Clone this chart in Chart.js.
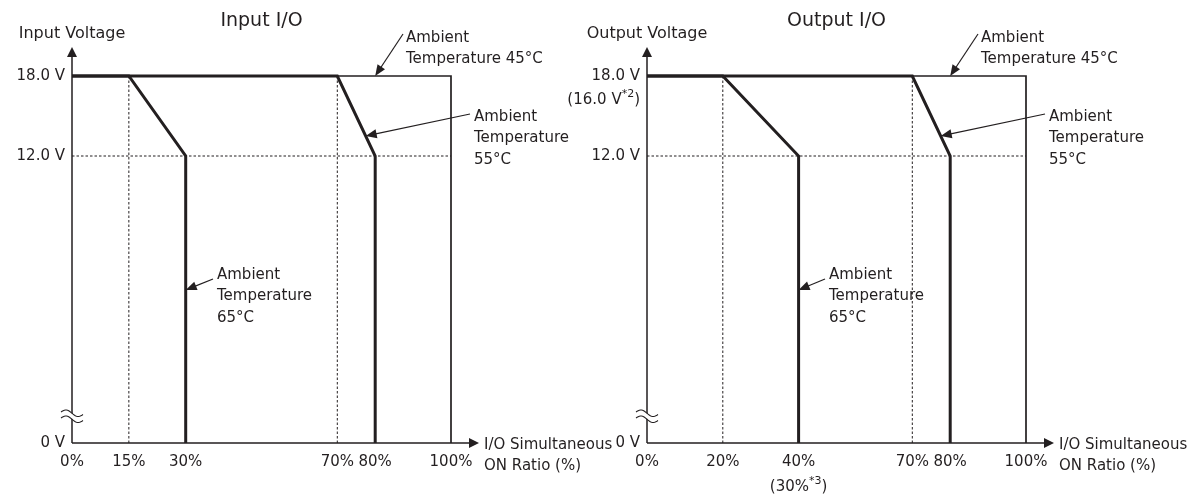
<!DOCTYPE html>
<html>
<head>
<meta charset="utf-8">
<script src="https://cdn.jsdelivr.net/npm/chart.js@4.4.1/dist/chart.umd.min.js"></script>
<style>
  html, body { margin: 0; padding: 0; background: #fff; }
  #wrap { position: relative; width: 1191px; height: 500px; overflow: hidden; background: #fff; }
  #inputChart { position: absolute; left: 0; top: 0; }
  #outputChart { position: absolute; left: 560px; top: 0; }
</style>
</head>
<body>
<div id="wrap">
  <canvas id="inputChart" width="620" height="500"></canvas>
  <canvas id="outputChart" width="631" height="500"></canvas>
</div>
<script>
// ---- data -------------------------------------------------------------
const voltageTicks  = [0, 12, 18];
const voltageLabels = ['0 V', '12.0 V', '18.0 V'];

// Input I/O derating (ON ratio % vs input voltage)
const inputRatioTicks = [0, 15, 30, 70, 80, 100];
const inputT45Ratio = [0, 100, 100];
const inputT45Volt  = [18, 18, 0];
const inputT55Ratio = [0, 70, 80, 80];
const inputT55Volt  = [18, 18, 12, 0];
const inputT65Ratio = [0, 15, 30, 30];
const inputT65Volt  = [18, 18, 12, 0];
const inputGuideRatios = [15, 70];

// Output I/O derating (ON ratio % vs output voltage)
const outputRatioTicks = [0, 20, 40, 70, 80, 100];
const outputT45Ratio = [0, 100, 100];
const outputT45Volt  = [18, 18, 0];
const outputT55Ratio = [0, 70, 80, 80];
const outputT55Volt  = [18, 18, 12, 0];
const outputT65Ratio = [0, 20, 40, 40];
const outputT65Volt  = [18, 18, 12, 0];
const outputGuideRatios = [20, 70];

const guideVolt = 12;
const maxVolt = 18;
const maxRatio = 100;

// ---- styling ----------------------------------------------------------
const INK = '#231f20';
const FONT = "'DejaVu Sans', 'Verdana', sans-serif";

// ---- voltage axis with a break between 0 V and 12 V -------------------
const VOLT_KNOTS = [0, 12, 18];
const FRACTION_KNOTS = [0, 0.782, 1];

function piecewise(v, xs, ys) {
  for (let i = 1; i < xs.length; i++) {
    if (v <= xs[i] || i === xs.length - 1) {
      const t = (v - xs[i - 1]) / (xs[i] - xs[i - 1]);
      return ys[i - 1] + t * (ys[i] - ys[i - 1]);
    }
  }
  return ys[0];
}

class BrokenVoltageScale extends Chart.LinearScale {
  getPixelForValue(value) {
    if (value === null || value === undefined || isNaN(value)) return NaN;
    return this.getPixelForDecimal(piecewise(value, VOLT_KNOTS, FRACTION_KNOTS));
  }
  getValueForPixel(pixel) {
    return piecewise(this.getDecimalForPixel(pixel), FRACTION_KNOTS, VOLT_KNOTS);
  }
}
BrokenVoltageScale.id = 'brokenVoltage';
BrokenVoltageScale.defaults = Chart.LinearScale.defaults;
Chart.register(BrokenVoltageScale);

// ---- helpers ----------------------------------------------------------
function series(xs, ys) { return xs.map((x, i) => ({ x: x, y: ys[i] })); }

function lineSet(points, width, dash) {
  return {
    data: points, borderColor: INK, borderWidth: width, borderDash: dash || [],
    pointRadius: 0, pointHoverRadius: 0, fill: false, tension: 0, clip: false,
    borderJoinStyle: 'miter', borderCapStyle: 'butt'
  };
}

function arrowHead(ctx, x, y, angle, len, half) {
  ctx.save();
  ctx.translate(x, y);
  ctx.rotate(angle);
  ctx.beginPath();
  ctx.moveTo(0, 0);
  ctx.lineTo(-len, -half);
  ctx.lineTo(-len, half);
  ctx.closePath();
  ctx.fill();
  ctx.restore();
}

function drawRich(ctx, parts, x, y, align, size) {
  const normal = size + 'px ' + FONT;
  const small = Math.round(size * 0.72) + 'px ' + FONT;
  let total = 0;
  parts.forEach(p => { ctx.font = p[1] ? small : normal; total += ctx.measureText(p[0]).width; });
  let cx = align === 'right' ? x - total : align === 'center' ? x - total / 2 : x;
  ctx.textAlign = 'left';
  parts.forEach(p => {
    ctx.font = p[1] ? small : normal;
    ctx.fillText(p[0], cx, p[1] ? y - 6 : y);
    cx += ctx.measureText(p[0]).width;
  });
}

const decorPlugin = {
  id: 'decor',
  beforeDatasetsDraw(chart, args, o) {
    const ctx = chart.ctx, xs = chart.scales.x, ys = chart.scales.y;
    const ox = xs.getPixelForValue(0), oy = ys.getPixelForValue(0);
    const xTip = xs.getPixelForValue(maxRatio) + 28;
    const yTip = ys.getPixelForValue(maxVolt) - 29;
    ctx.save();
    ctx.strokeStyle = INK; ctx.fillStyle = INK; ctx.lineWidth = 1.5;
    ctx.beginPath();
    ctx.moveTo(ox, oy); ctx.lineTo(xTip - 9, oy);
    ctx.moveTo(ox, oy); ctx.lineTo(ox, yTip + 9);
    ctx.stroke();
    arrowHead(ctx, xTip, oy, 0, 10, 5);
    arrowHead(ctx, ox, yTip, -Math.PI / 2, 10, 5);

    // axis break mark
    const by = oy - 28, w = 22, gap = 6, amp = 2.6;
    const wave = (yy, t) => yy - amp * Math.sin(2 * Math.PI * t) + 2.5 * t;
    ctx.beginPath();
    for (let i = 0; i <= 20; i++) { const t = i / 20; ctx[i ? 'lineTo' : 'moveTo'](ox - w / 2 + t * w, wave(by - gap / 2, t)); }
    for (let i = 20; i >= 0; i--) { const t = i / 20; ctx.lineTo(ox - w / 2 + t * w, wave(by + gap / 2, t)); }
    ctx.closePath();
    ctx.fillStyle = '#fff'; ctx.fill();
    ctx.lineWidth = 1.1; ctx.strokeStyle = INK;
    [by - gap / 2, by + gap / 2].forEach(yy => {
      ctx.beginPath();
      for (let i = 0; i <= 20; i++) { const t = i / 20; ctx[i ? 'lineTo' : 'moveTo'](ox - w / 2 + t * w, wave(yy, t)); }
      ctx.stroke();
    });
    ctx.restore();
  },
  afterDraw(chart, args, o) {
    const ctx = chart.ctx, xs = chart.scales.x, ys = chart.scales.y, ca = chart.chartArea;
    const ox = xs.getPixelForValue(0);
    const xTip = xs.getPixelForValue(maxRatio) + 28;
    ctx.save();
    ctx.fillStyle = INK; ctx.strokeStyle = INK; ctx.textBaseline = 'middle';

    ctx.font = '19px ' + FONT; ctx.textAlign = 'center';
    ctx.fillText(o.title, (ca.left + ca.right) / 2, 21);
    ctx.font = '16px ' + FONT;
    ctx.fillText(o.yTitle, ox, 34);
    ctx.font = '15px ' + FONT; ctx.textAlign = 'left';
    o.xTitle.forEach((s, i) => ctx.fillText(s, xTip + 5, 445 + i * 21));

    o.callouts.forEach(c => {
      ctx.font = '15px ' + FONT; ctx.textAlign = 'left';
      c.lines.forEach((s, i) => ctx.fillText(s, c.tx, c.ty + i * 21.5));
      const tx = xs.getPixelForValue(c.at[0]), ty = ys.getPixelForValue(c.at[1]);
      const ang = Math.atan2(ty - c.from[1], tx - c.from[0]);
      ctx.lineWidth = 1.2;
      ctx.beginPath();
      ctx.moveTo(c.from[0], c.from[1]);
      ctx.lineTo(tx - Math.cos(ang) * 9, ty - Math.sin(ang) * 9);
      ctx.stroke();
      arrowHead(ctx, tx, ty, ang, 11, 4.5);
    });

    (o.notes || []).forEach(n => {
      const x = n.ratio !== undefined ? xs.getPixelForValue(n.ratio) : ca.left - 7;
      drawRich(ctx, n.parts, x, n.y, n.align, 15);
    });
    ctx.restore();
  }
};

function makeChart(id, cfg) {
  const canvas = document.getElementById(id);
  const datasets = [
    lineSet(series(cfg.t65[0], cfg.t65[1]), 3),
    lineSet(series(cfg.t55[0], cfg.t55[1]), 3),
    lineSet(series(cfg.t45[0], cfg.t45[1]), 1.7),
    lineSet(series([0, maxRatio], [guideVolt, guideVolt]), 1, [2.5, 2]),
  ];
  cfg.guides.forEach(r => datasets.push(lineSet(series([r, r], [maxVolt, 0]), 1, [2.5, 2])));

  return new Chart(canvas, {
    type: 'line',
    data: { datasets: datasets },
    plugins: [decorPlugin],
    options: {
      responsive: false,
      animation: false,
      events: [],
      layout: { padding: { left: 0, right: canvas.width - cfg.plotRight, top: 76, bottom: 0 } },
      plugins: {
        legend: { display: false },
        tooltip: { enabled: false },
        decor: cfg.decor
      },
      scales: {
        x: {
          type: 'linear', min: 0, max: maxRatio,
          afterBuildTicks: s => { s.ticks = cfg.ratioTicks.map(v => ({ value: v })); },
          afterFit: s => { s.height = 57; },
          ticks: {
            callback: v => v + '%', color: INK, padding: 10,
            font: { family: FONT, size: 15 }, maxRotation: 0, autoSkip: false
          },
          grid: { display: false, drawTicks: false },
          border: { display: false }
        },
        y: {
          type: 'brokenVoltage', min: 0, max: maxVolt,
          afterBuildTicks: s => { s.ticks = voltageTicks.map(v => ({ value: v })); },
          afterFit: s => { s.width = cfg.plotLeft; },
          ticks: {
            callback: (v, i) => voltageLabels[i], color: INK, padding: 7,
            font: { family: FONT, size: 15 }
          },
          grid: { display: false, drawTicks: false },
          border: { display: false }
        }
      }
    }
  });
}

makeChart('inputChart', {
  plotLeft: 72, plotRight: 451,
  ratioTicks: inputRatioTicks,
  t45: [inputT45Ratio, inputT45Volt],
  t55: [inputT55Ratio, inputT55Volt],
  t65: [inputT65Ratio, inputT65Volt],
  guides: inputGuideRatios,
  decor: {
    title: 'Input I/O',
    yTitle: 'Input Voltage',
    xTitle: ['I/O Simultaneous', 'ON Ratio (%)'],
    callouts: [
      { lines: ['Ambient', 'Temperature 45°C'], tx: 406, ty: 38, from: [403, 34], at: [80, 18] },
      { lines: ['Ambient', 'Temperature', '55°C'], tx: 474, ty: 117, from: [470, 114], at: [77.5, 13.5] },
      { lines: ['Ambient', 'Temperature', '65°C'], tx: 217, ty: 275, from: [213, 279], at: [30, 6.4] }
    ]
  }
});

makeChart('outputChart', {
  plotLeft: 87, plotRight: 466,
  ratioTicks: outputRatioTicks,
  t45: [outputT45Ratio, outputT45Volt],
  t55: [outputT55Ratio, outputT55Volt],
  t65: [outputT65Ratio, outputT65Volt],
  guides: outputGuideRatios,
  decor: {
    title: 'Output I/O',
    yTitle: 'Output Voltage',
    xTitle: ['I/O Simultaneous', 'ON Ratio (%)'],
    callouts: [
      { lines: ['Ambient', 'Temperature 45°C'], tx: 421, ty: 38, from: [418, 34], at: [80, 18] },
      { lines: ['Ambient', 'Temperature', '55°C'], tx: 489, ty: 117, from: [485, 114], at: [77.5, 13.5] },
      { lines: ['Ambient', 'Temperature', '65°C'], tx: 269, ty: 275, from: [265, 279], at: [40, 6.4] }
    ],
    notes: [
      { parts: [['(16.0 V', false], ['*2', true], [')', false]], y: 100, align: 'right' },
      { parts: [['(30%', false], ['*3', true], [')', false]], ratio: 40, y: 487, align: 'center' }
    ]
  }
});
</script>
</body>
</html>
